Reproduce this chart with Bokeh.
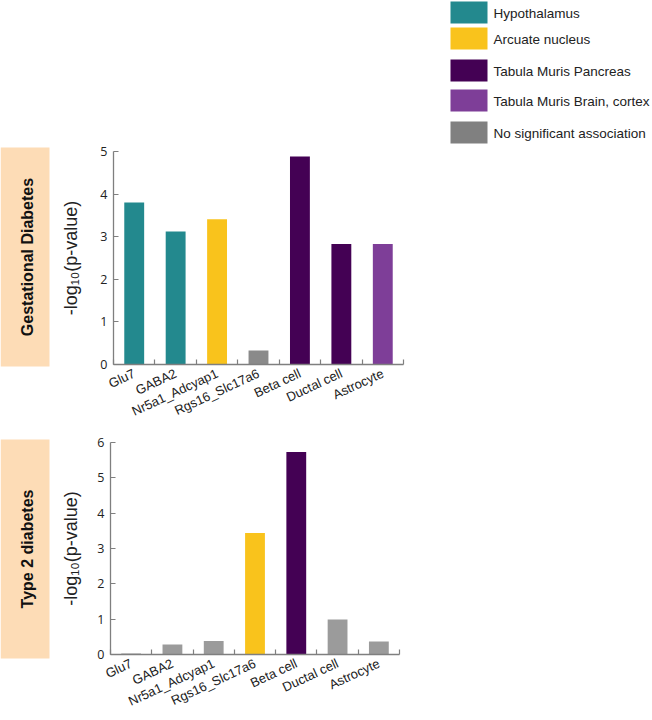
import math
from bokeh.plotting import figure
from bokeh.layouts import row, column
from bokeh.models import Range1d, FixedTicker
from bokeh.core.properties import value
from bokeh.embed import file_html
from bokeh.resources import INLINE

# ---------------- data ----------------
cell_types = ["Glu7", "GABA2", "Nr5a1_Adcyap1", "Rgs16_Slc17a6",
              "Beta cell", "Ductal cell", "Astrocyte"]
gdm_values = [3.80, 3.12, 3.41, 0.33, 4.88, 2.83, 2.83]
t2d_values = [0.03, 0.28, 0.38, 3.44, 5.73, 0.99, 0.37]

TEAL = "#23898E"
YELLOW = "#F9C31C"
DARKPURPLE = "#440154"
PURPLE = "#7E3E98"
GREY = "#808080"
GREY_BAR = "#8A8A8A"
GREY_LIGHT = "#9B9B9B"

gdm_colors = [TEAL, TEAL, YELLOW, GREY_BAR, DARKPURPLE, DARKPURPLE, PURPLE]
t2d_colors = [GREY_LIGHT, GREY_LIGHT, GREY_LIGHT, YELLOW, DARKPURPLE, GREY_LIGHT, GREY_LIGHT]

gdm_yticks = [0, 1, 2, 3, 4, 5]
t2d_yticks = [0, 1, 2, 3, 4, 5, 6]

panel_titles = ["Gestational Diabetes", "Type 2 diabetes"]

legend_labels = ["Hypothalamus", "Arcuate nucleus", "Tabula Muris Pancreas",
                 "Tabula Muris Brain, cortex", "No significant association"]
legend_colors = [TEAL, YELLOW, DARKPURPLE, PURPLE, GREY]

y_title = "-log\u2081\u2080(p-value)"

PEACH = "#FDDCB6"
AXIS_COLOR = "#7F7F7F"
FONT = "Liberation Sans"


def base_fig(**kw):
    p = figure(output_backend="svg", toolbar_location=None, **kw)
    p.frame_align = False
    p.outline_line_color = None
    p.grid.visible = False
    p.background_fill_color = "white"
    p.border_fill_color = "white"
    return p


def bar_chart(values, colors, yticks, width, height, mb_left, mb_right, mb_top, mb_bottom,
              label_standoff):
    n = len(cell_types)
    centers = [i + 0.5 for i in range(n)]
    p = base_fig(width=width, height=height,
                 x_range=Range1d(0, n), y_range=Range1d(yticks[0], yticks[-1]),
                 min_border_left=mb_left, min_border_right=mb_right,
                 min_border_top=mb_top, min_border_bottom=mb_bottom)
    p.vbar(x=centers, top=values, width=0.48, bottom=0,
           fill_color=colors, line_color=None)

    xa = p.xaxis[0]
    xa.ticker = FixedTicker(ticks=centers, minor_ticks=list(range(n + 1)))
    xa.major_label_overrides = {c: lab for c, lab in zip(centers, cell_types)}
    xa.major_tick_line_color = None
    xa.major_tick_in = 0
    xa.major_tick_out = 0
    xa.minor_tick_in = 5
    xa.minor_tick_out = 0
    xa.minor_tick_line_color = AXIS_COLOR
    xa.minor_tick_line_width = 1.2
    xa.axis_line_color = AXIS_COLOR
    xa.axis_line_width = 1.3
    xa.major_label_orientation = math.radians(25)
    xa.major_label_text_font = FONT
    xa.major_label_text_font_size = "13px"
    xa.major_label_text_color = "#222222"
    xa.major_label_standoff = 8

    ya = p.yaxis[0]
    ya.ticker = FixedTicker(ticks=yticks)
    ya.major_tick_in = 5
    ya.major_tick_out = 0
    ya.major_tick_line_color = AXIS_COLOR
    ya.major_tick_line_width = 1.2
    ya.minor_tick_line_color = None
    ya.axis_line_color = AXIS_COLOR
    ya.axis_line_width = 1.3
    ya.major_label_text_font = "Open Sans"
    ya.major_label_text_font_size = "12.5px"
    ya.major_label_text_color = "#222222"
    ya.major_label_standoff = 6
    ya.axis_label = y_title
    ya.axis_label_text_font = FONT
    ya.axis_label_text_font_style = "normal"
    ya.axis_label_text_font_size = "18px"
    ya.axis_label_text_color = "#222222"
    ya.axis_label_standoff = label_standoff
    return p


def title_box(text, width, height, box_top, box_bottom):
    p = base_fig(width=width, height=height,
                 x_range=Range1d(0, width), y_range=Range1d(height, 0),
                 x_axis_location=None, y_axis_location=None, min_border=0)
    p.quad(left=[0], right=[49], top=[box_top], bottom=[box_bottom],
           fill_color=PEACH, line_color=None)
    p.text(x=[26.5], y=[(box_top + box_bottom) / 2], text=[text], angle=math.pi / 2,
           text_align="center", text_baseline="middle",
           text_font=value(FONT), text_font_style="bold",
           text_font_size="16px", text_color="#111111")
    return p


BOX_W = 58
CHART_W = 387
TOP_H = 430
BOT_H = 290

top_chart = bar_chart(gdm_values, gdm_colors, gdm_yticks, CHART_W, TOP_H, 53, 42, 151, 66, 16)
bot_chart = bar_chart(t2d_values, t2d_colors, t2d_yticks, CHART_W, BOT_H, 50, 46, 12, 66, 13)

top_box = title_box(panel_titles[0], BOX_W, TOP_H, 147, 366)
bot_box = title_box(panel_titles[1], BOX_W, BOT_H, 9, 228)

# legend figure
LW, LH = 207, 150
leg = base_fig(width=LW, height=LH, x_range=Range1d(0, LW), y_range=Range1d(LH, 0),
               x_axis_location=None, y_axis_location=None, min_border=0)
offsets = [1, 27, 59, 89, 121]
tops = [offsets[i] for i in range(len(legend_labels))]
leg.quad(left=[5] * len(tops), right=[42] * len(tops),
         top=tops, bottom=[t + 22 for t in tops],
         fill_color=legend_colors, line_color=None)
leg.text(x=[48] * len(tops), y=[t + 11.5 for t in tops], text=legend_labels,
         text_align="left", text_baseline="middle",
         text_font=value(FONT), text_font_size="13.5px", text_color="#222222")

left_col = column(row(top_box, top_chart, spacing=0),
                  row(bot_box, bot_chart, spacing=0), spacing=0)
layout = row(left_col, leg, spacing=0)

open("out.html", "w").write(file_html(layout, INLINE))
